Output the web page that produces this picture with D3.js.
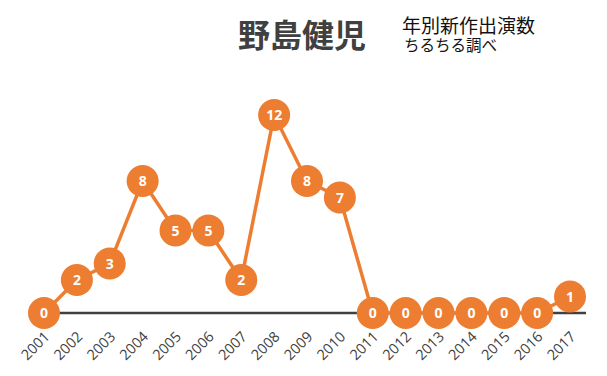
<!DOCTYPE html>
<html>
<head>
<meta charset="utf-8">
<script src="https://cdn.jsdelivr.net/npm/d3@7"></script>
<style>
  body { margin: 0; background: #fff; }
</style>
</head>
<body>
<div id="chart"></div>
<script>
/* 野島健児 yearly new works line chart */

const years = ["2001","2002","2003","2004","2005","2006","2007","2008","2009","2010","2011","2012","2013","2014","2015","2016","2017"];
const counts = [0, 2, 3, 8, 5, 5, 2, 12, 8, 7, 0, 0, 0, 0, 0, 0, 1];

const width = 607, height = 376;
const orange = "#ED7D31";

let svg = d3.select("#chart")
    .append("svg")
    .attr("width", width)
    .attr("height", height);

const x = d3.scalePoint()
    .domain(years)
    .range([44, 570]);

const y = d3.scaleLinear()
    .domain([0, 12])
    .range([313, 115]);

// baseline axis
svg.append("line")
    .attr("x1", x(years[0]))
    .attr("x2", 586)
    .attr("y1", y(0))
    .attr("y2", y(0))
    .style("stroke", "#404040")
    .style("stroke-width", "2.5px");

// year labels, rotated
svg.append("g")
    .selectAll("text")
    .data(years)
    .join("text")
    .attr("transform", d => `translate(${x(d) + 3},${y(0) + 21}) rotate(-45)`)
    .attr("text-anchor", "end")
    .attr("dy", "0.35em")
    .style("font-family", "'Open Sans', sans-serif")
    .style("font-size", "14.5px")
    .style("fill", "#404040")
    .text(d => d);

const line = d3.line()
    .x((d, i) => x(years[i]))
    .y(d => y(d));

svg.append("path")
    .datum(counts)
    .attr("d", line)
    .style("fill", "none")
    .style("stroke", orange)
    .style("stroke-width", "3.5px");

let pt = svg.selectAll(".pt")
    .data(counts)
    .join("g")
    .attr("class", "pt")
    .attr("transform", (d, i) => `translate(${x(years[i])},${y(d)})`);

pt.append("circle")
    .attr("r", 16)
    .style("fill", orange);

pt.append("text")
    .text(d => d)
    .attr("text-anchor", "middle")
    .attr("dy", "0.36em")
    .style("font-family", "'Open Sans', sans-serif")
    .style("font-weight", "bold")
    .style("font-size", "14px")
    .style("fill", "#fff");

// titles
svg.append("text")
    .attr("x", 302)
    .attr("y", 47)
    .attr("text-anchor", "middle")
    .style("font-family", "'Noto Sans CJK JP', sans-serif")
    .style("font-weight", "bold")
    .style("font-size", "32px")
    .style("fill", "#404040")
    .text("野島健児");

svg.append("text")
    .attr("x", 402)
    .attr("y", 33)
    .style("font-family", "'Noto Sans CJK JP', sans-serif")
    .style("font-size", "19px")
    .style("fill", "#111")
    .text("年別新作出演数");

svg.append("text")
    .attr("x", 404)
    .attr("y", 51)
    .style("font-family", "'Noto Sans CJK JP', sans-serif")
    .style("font-size", "15.5px")
    .style("fill", "#111")
    .text("ちるちる調べ");
</script>
</body>
</html>
